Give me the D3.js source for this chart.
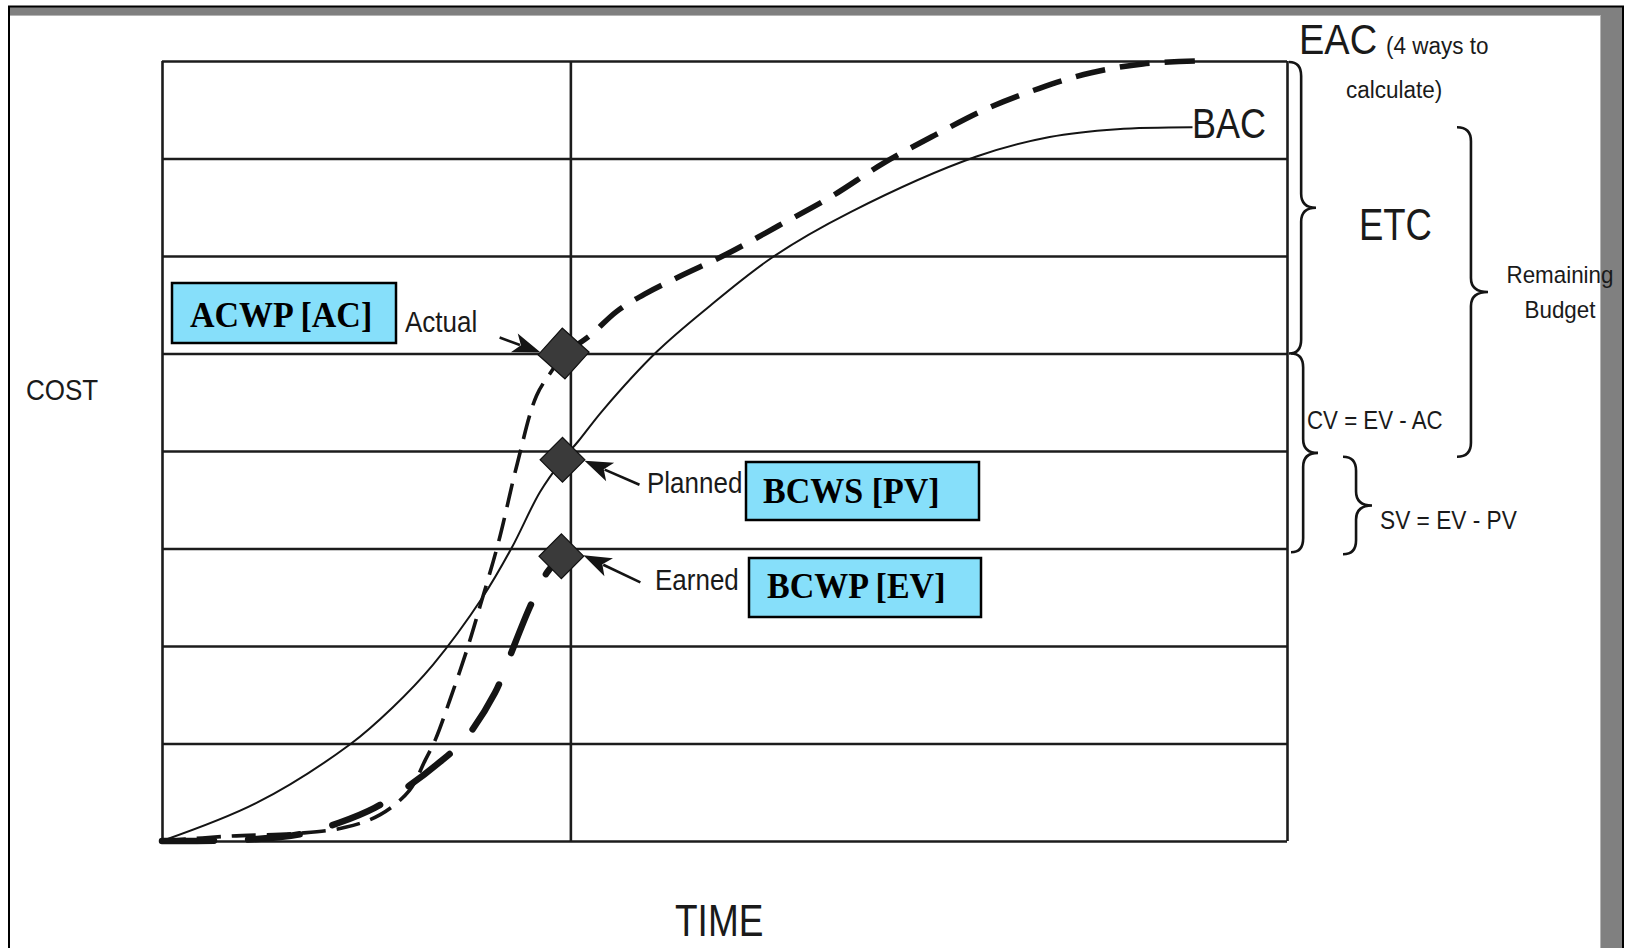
<!DOCTYPE html>
<html>
<head>
<meta charset="utf-8">
<script src="https://cdn.jsdelivr.net/npm/d3@7"></script>
<style>
  html, body { margin: 0; padding: 0; background: #ffffff; }
  svg { display: block; }
</style>
</head>
<body>
<svg id="chart" width="1629" height="948"></svg>
<script>
// ---- Data (time in % of schedule, cost in budget units) ----
const timeDomain = [0, 100];
const costDomain = [0, 8];
const costGridRows = [0, 1, 2, 3, 4, 5, 6, 7, 8];
const timeGridCols = [0, 36.3, 100];   // start, status date, finish

// Planned value curve (BCWS), ends at BAC
const plannedCurve = [[0,0],[8.4,0.39],[16.7,0.99],[20.5,1.37],[24.1,1.81],[28.5,2.5],[31.1,3.01],[33.6,3.58],[35.6,3.91],[37.0,4.1],[39.2,4.42],[44.0,5.02],[48.4,5.46],[54.3,5.99],[61.2,6.45],[72.4,7.02],[78.9,7.22],[84.9,7.30],[91.6,7.32]];
// Actual cost to date (ACWP)
const actualCurve = [[0,0],[6.0,0.05],[12.3,0.08],[16.3,0.14],[19.4,0.27],[22.0,0.52],[23.4,0.83],[24.3,1.04],[25.6,1.45],[27.1,1.96],[28.3,2.42],[29.9,3.06],[31.6,3.88],[33.3,4.57],[34.7,4.83],[35.7,5.0]];
// Forecast from actual to completion (EAC)
const forecastCurve = [[35.7,5.0],[38.0,5.18],[40.4,5.43],[42.9,5.61],[46.0,5.79],[50.2,6.02],[54.8,6.31],[59.5,6.61],[64.1,6.95],[68.7,7.24],[73.3,7.51],[78.0,7.72],[82.6,7.88],[87.2,7.97],[92.1,8.0]];
// Earned value to date (BCWP)
const earnedCurve = [[0,0],[6.9,0.01],[12.3,0.07],[15.8,0.19],[18.9,0.34],[22.0,0.57],[24.7,0.81],[26.9,1.04],[29.6,1.52],[30.7,1.83],[32.7,2.4],[34.2,2.75],[35.5,2.92]];

// Status-date markers
const markerNames = ["Actual", "Planned", "Earned"];
const markerTimes = [35.7, 35.6, 35.5];
const markerCosts = [5.0, 3.91, 2.92];
const markerBoxes = ["ACWP [AC]", "BCWS [PV]", "BCWP [EV]"];
const bacValue = 7.32;
const eacValue = 8.0;

// ---- Layout ----
const svg = d3.select("#chart");
const x = d3.scaleLinear().domain(timeDomain).range([162, 1287]);
const y = d3.scaleLinear().domain(costDomain).range([841, 61]);
const INK = "#141414";
const SANS = "'Liberation Sans', Arial, Helvetica, sans-serif";
const SERIF = "'Liberation Serif', 'Times New Roman', serif";

// Page frame: grey band along top and right, thin black outline
const frame = svg.append("g");
frame.append("rect").attr("x", 8).attr("y", 6).attr("width", 1616).attr("height", 9).attr("fill", "#808080");
frame.append("rect").attr("x", 1600).attr("y", 6).attr("width", 24).attr("height", 942).attr("fill", "#808080");
frame.append("line").attr("x1", 1600.5).attr("x2", 1600.5).attr("y1", 15).attr("y2", 948).attr("stroke", "#b4b4b4").attr("stroke-width", 1);
frame.append("line").attr("x1", 10).attr("x2", 1600).attr("y1", 15.5).attr("y2", 15.5).attr("stroke", "#b4b4b4").attr("stroke-width", 1);
frame.append("path").attr("d", "M9,948 L9,6.5 L1623,6.5 L1623,948").attr("fill", "none").attr("stroke", "#000").attr("stroke-width", 2);

// Grid made from axes with full-length ticks
const plotW = x.range()[1] - x.range()[0];
const plotH = y.range()[0] - y.range()[1];
const gridY = svg.append("g").attr("transform", `translate(${x(0)},0)`)
  .call(d3.axisLeft(y).tickValues(costGridRows).tickSize(-plotW).tickFormat(""));
const gridX = svg.append("g").attr("transform", `translate(0,${y(0)})`)
  .call(d3.axisBottom(x).tickValues(timeGridCols).tickSize(-plotH).tickFormat(""));
[gridY, gridX].forEach(g => {
  g.select(".domain").remove();
  g.selectAll(".tick line").attr("stroke", "#1c1c1c").attr("stroke-width", 2.6);
});

// Curves
const line = d3.line().x(d => x(d[0])).y(d => y(d[1])).curve(d3.curveCatmullRom.alpha(0.5));
svg.append("path").datum(plannedCurve).attr("d", line)
  .attr("fill", "none").attr("stroke", INK).attr("stroke-width", 2);
svg.append("path").datum(earnedCurve).attr("d", line)
  .attr("fill", "none").attr("stroke", INK).attr("stroke-width", 6.5)
  .attr("stroke-dasharray", "52 34").attr("stroke-linecap", "round");
svg.append("path").datum(actualCurve).attr("d", line)
  .attr("fill", "none").attr("stroke", INK).attr("stroke-width", 3.6)
  .attr("stroke-dasharray", "24 11");
svg.append("path").datum(forecastCurve).attr("d", line)
  .attr("fill", "none").attr("stroke", INK).attr("stroke-width", 5.5)
  .attr("stroke-dasharray", "30 15");

// Status markers (diamonds)
const markers = markerNames.map((n, i) => ({ name: n, t: markerTimes[i], c: markerCosts[i] }));
svg.selectAll(".marker").data(markers).join("path")
  .attr("class", "marker")
  .attr("d", d => d3.symbol(d3.symbolSquare, d.name === "Actual" ? 1300 : 1000)())
  .attr("transform", d => `translate(${x(d.t)},${y(d.c)}) rotate(${d.name === "Actual" ? 42 : 45})`)
  .attr("fill", "#3a3a3a").attr("stroke", "#111").attr("stroke-width", 1.2);

// Pointer arrows toward the markers
function arrow(x1, y1, x2, y2) {
  const dx = x2 - x1, dy = y2 - y1, L = Math.hypot(dx, dy);
  const ux = dx / L, uy = dy / L, px = -uy, py = ux;
  const hl = 28, hw = 10;
  const bx = x2 - ux * hl, by = y2 - uy * hl;
  svg.append("line").attr("x1", x1).attr("y1", y1).attr("x2", bx + ux * 6).attr("y2", by + uy * 6)
    .attr("stroke", INK).attr("stroke-width", 2.6);
  svg.append("path")
    .attr("d", `M${x2},${y2} L${bx + px * hw},${by + py * hw} L${bx + ux * 7},${by + uy * 7} L${bx - px * hw},${by - py * hw} Z`)
    .attr("fill", INK);
}
const arrowOffsets = {
  Actual:  { tail: [-64, -16], tip: [-23, -1] },
  Planned: { tail: [77, 25],  tip: [22, 1] },
  Earned:  { tail: [79, 26],  tip: [22, -1] }
};
markers.forEach(m => {
  const cx = x(m.t), cy = y(m.c), o = arrowOffsets[m.name];
  arrow(cx + o.tail[0], cy + o.tail[1], cx + o.tip[0], cy + o.tip[1]);
});

// Text helper with slight vertical stretch
function label(px, py, str, size, opts = {}) {
  const sy = opts.sy || 1.1;
  return svg.append("text")
    .attr("transform", `translate(${px},${py}) scale(1,${sy})`)
    .attr("font-family", opts.family || SANS)
    .attr("font-size", size)
    .attr("font-weight", opts.weight || "normal")
    .attr("text-anchor", opts.anchor || "start")
    .attr("fill", opts.fill || "#1a1a1a")
    .text(str);
}

// Marker captions
label(405, 332, markerNames[0], 26, { sy: 1.1 });
label(647, 493, markerNames[1], 26, { sy: 1.12 });
label(655, 590, markerNames[2], 26, { sy: 1.12 });

// Highlighted acronym boxes
const boxes = [
  { text: markerBoxes[0], x0: 172, y0: 283, x1: 396, y1: 343, tx: 190, ty: 327 },
  { text: markerBoxes[1], x0: 746, y0: 462, x1: 979, y1: 520, tx: 763, ty: 503 },
  { text: markerBoxes[2], x0: 749, y0: 558, x1: 981, y1: 617, tx: 767, ty: 598 }
];
boxes.forEach(b => {
  svg.append("rect").attr("x", b.x0).attr("y", b.y0).attr("width", b.x1 - b.x0).attr("height", b.y1 - b.y0)
    .attr("fill", "#86dffa").attr("stroke", "#000").attr("stroke-width", 2.5);
  label(b.tx, b.ty, b.text, 34, { family: SERIF, weight: "bold", sy: 1.05, fill: "#000" });
});

// Axis titles
label(26, 400, "COST", 26, { sy: 1.1 });
label(675, 936, "TIME", 37, { sy: 1.22 });

// Curly braces
function brace(x0, yTop, yBot, w) {
  const ym = (yTop + yBot) / 2, xm = x0 + w * 0.45, r = Math.min(14, (yBot - yTop) / 5);
  const d = `M${x0},${yTop} Q${xm},${yTop} ${xm},${yTop + r} L${xm},${ym - r} Q${xm},${ym} ${x0 + w},${ym}` +
            ` Q${xm},${ym} ${xm},${ym + r} L${xm},${yBot - r} Q${xm},${yBot} ${x0},${yBot}`;
  svg.append("path").attr("d", d).attr("fill", "none").attr("stroke", INK).attr("stroke-width", 2.6);
}
brace(1289, y(eacValue) + 1, y(markerCosts[0]), 27);          // ETC
brace(1291, y(markerCosts[0]), y(markerCosts[2]) - 4, 27);     // CV
brace(1457, y(bacValue), y(markerCosts[1]) - 3, 31);          // Remaining budget
brace(1343, y(markerCosts[1]) - 3, y(markerCosts[2]) - 2, 29); // SV

// Right-hand annotations
label(1192, 138, "BAC", 36, { sy: 1.16 });
label(1299, 54, "EAC", 38, { sy: 1.1 });
label(1386, 54, "(4 ways to", 22.5, { sy: 1.1 });
label(1346, 98, "calculate)", 22.5, { sy: 1.1 });
label(1359, 240, "ETC", 36.5, { sy: 1.2 });
label(1560, 283, "Remaining", 22.4, { sy: 1.1, anchor: "middle" });
label(1560, 318, "Budget", 22.4, { sy: 1.1, anchor: "middle" });
label(1307, 429, "CV = EV - AC", 22.3, { sy: 1.12 });
label(1380, 529, "SV = EV - PV", 22.7, { sy: 1.12 });
</script>
</body>
</html>
